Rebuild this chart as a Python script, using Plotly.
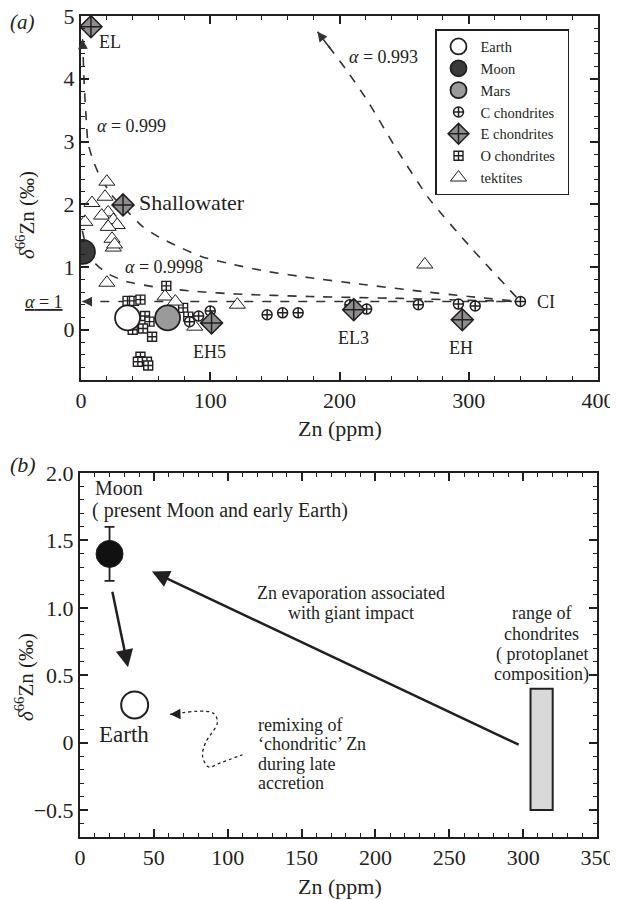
import plotly.graph_objects as go

FONT = "Liberation Serif"
INK = "#231f20"

# ---------------- Panel (a) data ----------------
earth_a_zn = [36]
earth_a_d = [0.19]
moon_a_zn = [1.5]
moon_a_d = [1.24]
mars_a_zn = [67]
mars_a_d = [0.19]

c_chon_zn = [84, 91, 100, 144, 156, 168, 208, 221, 261, 292, 305, 340]
c_chon_d = [0.13, 0.22, 0.30, 0.24, 0.27, 0.27, 0.40, 0.33, 0.40, 0.41, 0.38, 0.45]

e_chon_names = ["EL", "Shallowater", "EH5", "EL3", "EH"]
e_chon_zn = [7.7, 32.5, 101, 211, 295]
e_chon_d = [4.83, 1.99, 0.11, 0.32, 0.16]

o_chon_zn = [66, 36, 41, 46, 49.5, 53, 48, 40, 55, 46, 51, 44, 52, 79, 83]
o_chon_d = [0.70, 0.46, 0.46, 0.48, 0.22, 0.13, 0.02, 0.0, -0.11, -0.43, -0.51, -0.51, -0.57, 0.35, 0.21]

tektite_zn = [20, 18.6, 8.5, 21, 3, 16, 25, 28, 21, 24, 25, 26, 20, 65, 73, 88, 121, 266]
tektite_d = [2.36, 2.12, 2.02, 1.87, 1.72, 1.82, 1.75, 1.67, 1.64, 1.45, 1.31, 1.36,
             0.75, 0.53, 0.45, 0.05, 0.40, 1.04]

# fractionation curves (first point = arrow tip)
a0999_zn = [1.2, 1.6, 2.3, 3.1, 4.2, 5.4, 8.5, 14.7, 24.8, 32.5, 48, 61, 77, 94, 118, 144, 177, 215, 260, 300, 340]
a0999_d = [4.63, 4.40, 4.00, 3.67, 3.30, 2.98, 2.75, 2.44, 2.12, 1.96, 1.64, 1.47, 1.31, 1.16, 1.04, 0.93,
           0.83, 0.73, 0.62, 0.53, 0.45]
a09998_zn = [1.0, 2.5, 5, 9, 14, 22, 35, 61, 90, 120, 177, 247, 300, 340]
a09998_d = [1.58, 1.45, 1.30, 1.10, 1.00, 0.88, 0.77, 0.67, 0.61, 0.57, 0.53, 0.50, 0.47, 0.45]
a0993_zn = [183, 205, 221, 245, 270, 303, 340]
a0993_d = [4.75, 4.15, 3.67, 2.85, 2.07, 1.28, 0.45]
a1_zn = [1.0, 340]
a1_d = [0.45, 0.45]

# ---------------- Panel (b) data ----------------
moon_b_zn = [20]
moon_b_d = [1.40]
moon_b_err = [0.20]
earth_b_zn = [37]
earth_b_d = [0.28]
chondrite_zn_range = [305, 320]
chondrite_d_range = [-0.5, 0.4]
late_arrow_zn = [21.7, 32.5]   # tail, tip
late_arrow_d = [1.13, 0.56]
evap_arrow_zn = [298, 48.7]    # tail, tip
evap_arrow_d = [-0.02, 1.27]
remix_zn = [61, 90, 93, 85, 83, 87, 95, 110]
remix_d = [0.21, 0.22, 0.15, 0.0, -0.10, -0.18, -0.15, -0.09]

y2_tickvals = [-0.5, 0, 0.5, 1.0, 1.5, 2.0]
y2_ticktext = ["\u22120.5", "0", "0.5", "1.0", "1.5", "2.0"]

# page has an 8 px body margin: the figure is sized to fit the 618x900 window
OFF = 8
W, H = 618 - OFF, 900 - OFF


def xp(px):
    return (px - OFF) / W


def yp(py):
    return 1 - (py - OFF) / H


PAD = "\u00a0\u00a0"
fig = go.Figure()

# ---- curves (a)
for zx, zy in [(a0999_zn, a0999_d), (a09998_zn, a09998_d), (a0993_zn, a0993_d), (a1_zn, a1_d)]:
    fig.add_trace(go.Scatter(x=zx, y=zy, mode="lines",
                             line=dict(color="#333", width=1.6, dash="dash", shape="spline", smoothing=0.6),
                             showlegend=False, hoverinfo="skip", xaxis="x", yaxis="y"))

# ---- points (a)
fig.add_trace(go.Scatter(x=o_chon_zn, y=o_chon_d, mode="markers", name="O chondrites" + PAD, legendrank=6,
                         marker=dict(symbol="square-cross", size=9, color="white", line=dict(color=INK, width=1.4)),
                         xaxis="x", yaxis="y"))
fig.add_trace(go.Scatter(x=tektite_zn, y=tektite_d, mode="markers", name="tektites", legendrank=7,
                         marker=dict(symbol="triangle-up", size=14, color="white", line=dict(color=INK, width=1)),
                         xaxis="x", yaxis="y"))
fig.add_trace(go.Scatter(x=c_chon_zn, y=c_chon_d, mode="markers", name="C chondrites" + PAD, legendrank=4,
                         marker=dict(symbol="circle-cross", size=10, color="white", line=dict(color=INK, width=1.5)),
                         xaxis="x", yaxis="y"))
fig.add_trace(go.Scatter(x=earth_a_zn, y=earth_a_d, mode="markers", name="Earth", legendrank=1,
                         marker=dict(symbol="circle", size=25, color="white", line=dict(color=INK, width=1.8)),
                         xaxis="x", yaxis="y"))
fig.add_trace(go.Scatter(x=mars_a_zn, y=mars_a_d, mode="markers", name="Mars", legendrank=3,
                         marker=dict(symbol="circle", size=25, color="#9a9a9a", line=dict(color=INK, width=1.8)),
                         xaxis="x", yaxis="y"))
fig.add_trace(go.Scatter(x=moon_a_zn, y=moon_a_d, mode="markers", name="Moon", legendrank=2,
                         marker=dict(symbol="circle", size=24, color="#3a3a3a", line=dict(color=INK, width=1.8)),
                         xaxis="x", yaxis="y"))
fig.add_trace(go.Scatter(x=e_chon_zn, y=e_chon_d, mode="markers", name="E chondrites" + PAD, legendrank=5,
                         text=e_chon_names,
                         marker=dict(symbol="diamond-cross", size=17, color="#8e8e8e", line=dict(color=INK, width=1.5)),
                         xaxis="x", yaxis="y"))

# ---- panel (b)
fig.add_trace(go.Scatter(x=remix_zn, y=remix_d, mode="lines", showlegend=False, hoverinfo="skip",
                         line=dict(color=INK, width=1.3, dash="dot", shape="spline", smoothing=1.0),
                         xaxis="x2", yaxis="y2"))
fig.add_trace(go.Scatter(x=moon_b_zn, y=moon_b_d, mode="markers", showlegend=False,
                         error_y=dict(type="data", array=moon_b_err, color=INK, thickness=1.8, width=5),
                         marker=dict(symbol="circle", size=27, color="#111", line=dict(color=INK, width=1)),
                         xaxis="x2", yaxis="y2"))
fig.add_trace(go.Scatter(x=earth_b_zn, y=earth_b_d, mode="markers", showlegend=False,
                         marker=dict(symbol="circle", size=27, color="white", line=dict(color=INK, width=2)),
                         xaxis="x2", yaxis="y2"))

shapes = [dict(type="rect", xref="x2", yref="y2",
               x0=chondrite_zn_range[0], x1=chondrite_zn_range[1],
               y0=chondrite_d_range[0], y1=chondrite_d_range[1],
               fillcolor="#d9d9d9", line=dict(color=INK, width=2), layer="above")]

ann = []


def txt(x, y, s, size=18, xref="x", yref="y", xanchor="center", yanchor="middle", italic=False, angle=0):
    ann.append(dict(x=x, y=y, xref=xref, yref=yref, text=(f"<i>{s}</i>" if italic else s), showarrow=False,
                    xanchor=xanchor, yanchor=yanchor, textangle=angle,
                    font=dict(family=FONT, size=size, color=INK)))


def arrow_head(zx, zy, xr, yr, width=1.5, size=1.3, frac=0.35):
    tip_x, tip_y = zx[0], zy[0]
    tail_x = tip_x + frac * (zx[1] - zx[0])
    tail_y = tip_y + frac * (zy[1] - zy[0])
    ann.append(dict(x=tip_x, y=tip_y, ax=tail_x, ay=tail_y, xref=xr, yref=yr, axref=xr, ayref=yr,
                    text="", showarrow=True, arrowhead=2, arrowsize=size, arrowwidth=width, arrowcolor="#333",
                    standoff=0))


arrow_head(a0999_zn, a0999_d, "x", "y")
arrow_head(a09998_zn, a09998_d, "x", "y")
arrow_head(a0993_zn, a0993_d, "x", "y", frac=0.5)
arrow_head(a1_zn, a1_d, "x", "y", frac=0.02)

# panel (a) labels
txt(12.5, 4.58, "EL", 18, xanchor="left")
txt(e_chon_zn[1] + 10.5, 2.03, "Shallowater", 22, xanchor="left")
txt(99.8, -0.35, "EH5", 18)
txt(211, -0.13, "EL3", 18)
txt(294, -0.29, "EH", 18)
txt(351, 0.45, "CI", 18, xanchor="left")
txt(233.7, 4.35, "<i>α</i> = 0.993", 18)
txt(10.8, 3.24, "<i>α</i> = 0.999", 18, xanchor="left")
txt(32.5, 1.0, "<i>α</i> = 0.9998", 18, xanchor="left")
txt(xp(44), 0.45, "<u><i>α</i> = 1</u>", 18, xref="paper")
txt(xp(340), yp(428), "Zn (ppm)", 22, xref="paper", yref="paper")
txt(xp(26), yp(215), "<i>δ</i><sup>66</sup>Zn (‰)", 21, xref="paper", yref="paper", angle=-90)
txt(0, 1, "(a)", 21, xref="paper", yref="paper", xanchor="left", yanchor="top", italic=True)

# panel (b) labels
txt(8.8, 1.89, "Moon", 20, xref="x2", yref="y2", xanchor="left")
txt(6.8, 1.72, "( present Moon and early Earth)", 20, xref="x2", yref="y2", xanchor="left")
txt(183.5, 1.11, "Zn evaporation associated", 18, xref="x2", yref="y2")
txt(183.5, 0.96, "with giant impact", 18, xref="x2", yref="y2")
for i, line in enumerate(["range of", "chondrites", "( protoplanet", "composition)"]):
    txt(312.5, 0.96 - i * 0.152, line, 18, xref="x2", yref="y2")
for i, line in enumerate(["remixing of", "‘chondritic’ Zn", "during late", "accretion"]):
    txt(119, 0.13 - i * 0.143, line, 18, xref="x2", yref="y2", xanchor="left")
txt(30, 0.06, "Earth", 23, xref="x2", yref="y2")
txt(xp(340), yp(886), "Zn (ppm)", 22, xref="paper", yref="paper")
txt(xp(24), yp(677), "<i>δ</i><sup>66</sup>Zn (‰)", 21, xref="paper", yref="paper", angle=-90)
txt(0, yp(464), "(b)", 22, xref="paper", yref="paper", xanchor="left", italic=True)

# panel (b) arrows
for zx, zy in [(late_arrow_zn, late_arrow_d), (evap_arrow_zn, evap_arrow_d)]:
    ann.append(dict(x=zx[1], y=zy[1], ax=zx[0], ay=zy[0], xref="x2", yref="y2", axref="x2", ayref="y2",
                    text="", showarrow=True, arrowhead=2, arrowsize=1.4, arrowwidth=2.5, arrowcolor=INK, standoff=0))
ann.append(dict(x=remix_zn[0], y=remix_d[0], ax=remix_zn[0] + 0.25 * (remix_zn[1] - remix_zn[0]),
                ay=remix_d[0] + 0.25 * (remix_d[1] - remix_d[0]), xref="x2", yref="y2", axref="x2", ayref="y2",
                text="", showarrow=True, arrowhead=2, arrowsize=1.6, arrowwidth=1.3, arrowcolor=INK, standoff=0))


def axis(domain, rng, dtick, mdtick, anchor, **kw):
    d = dict(domain=domain, range=rng, dtick=dtick, ticks="inside", ticklen=8, tickwidth=1.5, tickcolor=INK,
             mirror="allticks", showline=True, linewidth=2, linecolor=INK, showgrid=False, zeroline=False,
             automargin=False, ticklabeloverflow="allow", anchor=anchor,
             tickfont=dict(family=FONT, size=22, color=INK),
             minor=dict(dtick=mdtick, ticks="inside", ticklen=4, tickwidth=1.2, tickcolor=INK, showgrid=False))
    d.update(kw)
    return d


fig.update_layout(
    template="none",
    width=W, height=H, margin=dict(l=0, r=0, t=0, b=0, pad=0, autoexpand=False),
    paper_bgcolor="white", plot_bgcolor="white",
    font=dict(family=FONT, color=INK),
    xaxis=axis([xp(81), xp(598)], [0, 400], 100, 20, "y"),
    yaxis=axis([yp(380), yp(16)], [-0.8, 5], 1, 0.2, "x", tick0=0),
    xaxis2=axis([xp(80), xp(597)], [0, 350], 50, 10, "y2"),
    yaxis2=axis([yp(837), yp(473)], [-0.7, 2.0], 0.5, 0.1, "x2",
                tickmode="array", tickvals=y2_tickvals, ticktext=y2_ticktext),
    legend=dict(x=xp(435), y=yp(29), xanchor="left", yanchor="top", bgcolor="white",
                bordercolor=INK, borderwidth=1.5, font=dict(family=FONT, size=14.5, color=INK),
                tracegroupgap=0, itemwidth=34),
    shapes=shapes, annotations=ann,
)

fig.write_html("out.html")
